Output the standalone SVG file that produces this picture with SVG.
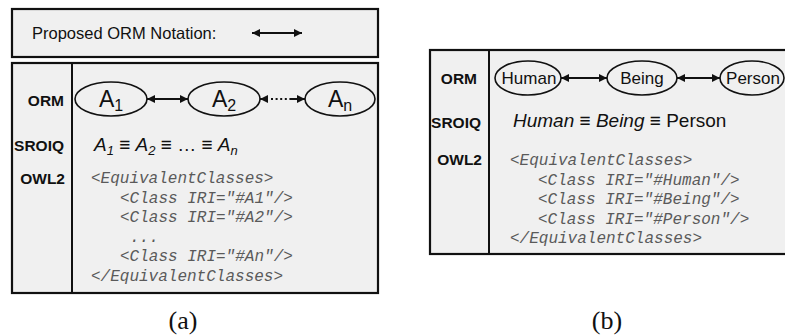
<svg xmlns="http://www.w3.org/2000/svg" width="785" height="336" viewBox="0 0 785 336">
<style>
.box{fill:#f0f0f0;stroke:#111;stroke-width:2.2}
.div{stroke:#111;stroke-width:2}
.ell{fill:#f0f0f0;stroke:#111;stroke-width:1.6}
.lbl{font-family:"Liberation Sans",Arial,sans-serif;font-weight:bold;font-size:15.5px;fill:#111;text-anchor:end}
.node{font-family:"Liberation Sans",Arial,sans-serif;font-size:23px;fill:#111;text-anchor:middle}
.nodeb{font-family:"Liberation Sans",Arial,sans-serif;font-size:17px;fill:#111;text-anchor:middle}
.form{font-family:"Liberation Sans",Arial,sans-serif;font-size:19px;fill:#111}
.code{font-family:"Liberation Mono","Courier New",monospace;font-style:italic;font-size:16px;fill:#5a5a5a;white-space:pre}
.cap{font-family:"Liberation Serif","Times New Roman",serif;font-size:26px;fill:#111;text-anchor:middle}
.arr{stroke:#111;stroke-width:2;fill:none}
</style>
<defs>
<marker id="ah" viewBox="0 0 10 10" refX="10" refY="5" markerWidth="9" markerHeight="8" markerUnits="userSpaceOnUse" orient="auto-start-reverse">
<path d="M0,0 L10,5 L0,10 z" fill="#111"/>
</marker>
</defs>

<g id="legend">
<rect class="box" x="12" y="9" width="366" height="48"/>
<text x="32" y="39" style="font-family:'Liberation Sans',Arial,sans-serif;font-size:16.5px;fill:#111">Proposed ORM Notation:</text>
<line class="arr" x1="252" y1="33" x2="302" y2="33" marker-start="url(#ah)" marker-end="url(#ah)"/>
</g>

<g id="panel-a">
<rect class="box" x="12" y="63" width="366" height="230"/>
<line class="div" x1="72" y1="63" x2="72" y2="293"/>
<text class="lbl" x="64" y="106">ORM</text>
<text class="lbl" x="64" y="151">SROIQ</text>
<text class="lbl" x="65" y="184">OWL2</text>
</g>

<g id="node-A1">
<ellipse class="ell" cx="111" cy="99" rx="36" ry="17"/>
<text class="node" x="111" y="107">A<tspan font-size="16" dy="4">1</tspan></text>
</g>
<g id="node-A2">
<ellipse class="ell" cx="224" cy="99" rx="36" ry="17"/>
<text class="node" x="224" y="107">A<tspan font-size="16" dy="4">2</tspan></text>
</g>
<g id="node-An">
<ellipse class="ell" cx="340" cy="99" rx="35" ry="17"/>
<text class="node" x="340" y="107">A<tspan font-size="16" dy="4">n</tspan></text>
</g>

<g id="text-a">
<text class="form" x="94" y="151" font-style="italic">A<tspan font-size="13" dy="4">1</tspan><tspan dy="-4" font-style="normal"> ≡ </tspan>A<tspan font-size="13" dy="4">2</tspan><tspan dy="-4" font-style="normal"> ≡ … ≡  </tspan>A<tspan font-size="13" dy="4">n</tspan></text>
<text class="code" x="91" y="183">&lt;EquivalentClasses&gt;</text>
<text class="code" x="120" y="202.6">&lt;Class IRI="#A1"/&gt;</text>
<text class="code" x="120" y="222.2">&lt;Class IRI="#A2"/&gt;</text>
<text class="code" x="130" y="241.8">...</text>
<text class="code" x="120" y="261.4">&lt;Class IRI="#An"/&gt;</text>
<text class="code" x="91" y="281">&lt;/EquivalentClasses&gt;</text>
<text class="cap" x="183" y="329">(a)</text>
</g>

<g id="panel-b">
<rect class="box" x="430" y="50" width="360" height="204"/>
<line class="div" x1="489" y1="50" x2="489" y2="254"/>
<text class="lbl" x="477" y="84">ORM</text>
<text class="lbl" x="481" y="128">SROIQ</text>
<text class="lbl" x="482" y="165">OWL2</text>
</g>

<g id="node-Human">
<ellipse class="ell" cx="528" cy="78" rx="33" ry="17"/>
<text class="nodeb" x="529" y="84">Human</text>
</g>
<g id="node-Being">
<ellipse class="ell" cx="642" cy="78" rx="35" ry="17"/>
<text class="nodeb" x="642" y="84">Being</text>
</g>
<g id="node-Person">
<ellipse class="ell" cx="752" cy="78" rx="32" ry="17"/>
<text class="nodeb" x="753" y="84">Person</text>
</g>

<g id="text-b">
<text class="form" x="513" y="127" font-size="20"><tspan font-style="italic">Human</tspan> ≡ <tspan font-style="italic">Being</tspan> ≡ Person</text>
<text class="code" x="510" y="165">&lt;EquivalentClasses&gt;</text>
<text class="code" x="538" y="184.5">&lt;Class IRI="#Human"/&gt;</text>
<text class="code" x="538" y="204">&lt;Class IRI="#Being"/&gt;</text>
<text class="code" x="538" y="223.5">&lt;Class IRI="#Person"/&gt;</text>
<text class="code" x="510" y="243">&lt;/EquivalentClasses&gt;</text>
<text class="cap" x="607" y="329">(b)</text>
</g>

<g id="connectors">
<line class="arr" x1="147" y1="99" x2="188" y2="99" marker-start="url(#ah)" marker-end="url(#ah)"/>
<line class="arr" x1="260" y1="99" x2="268" y2="99" marker-start="url(#ah)"/>
<line class="arr" x1="271" y1="99" x2="290" y2="99" stroke-dasharray="2 2.6"/>
<line class="arr" x1="290" y1="99" x2="305" y2="99" marker-end="url(#ah)"/>
<line class="arr" x1="561" y1="78" x2="607" y2="78" marker-start="url(#ah)" marker-end="url(#ah)"/>
<line class="arr" x1="677" y1="78" x2="720" y2="78" marker-start="url(#ah)" marker-end="url(#ah)"/>
</g>
</svg>
